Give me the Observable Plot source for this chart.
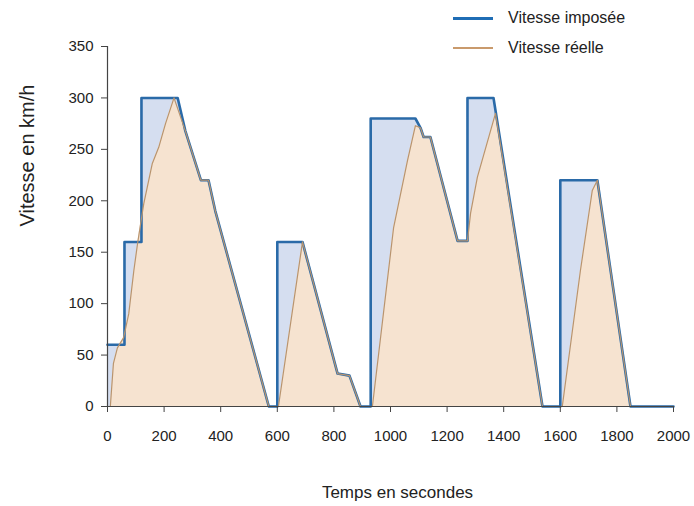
<!DOCTYPE html>
<html>
<head>
<meta charset="utf-8">
<script src="https://cdn.jsdelivr.net/npm/d3@7"></script>
<script src="https://cdn.jsdelivr.net/npm/@observablehq/plot@0.6"></script>
<style>
  body { margin: 0; background: #fff; }
  #wrap { position: relative; width: 694px; height: 506px; font-family: "Liberation Sans Narrow", "Arial Narrow", "Liberation Sans", Arial, sans-serif; }
  .leg { position: absolute; left: 453px; display: flex; align-items: center; font-size: 16px; color: #222; }
  .sw { width: 40px; margin-right: 15px; }
</style>
</head>
<body>
<div id="wrap">
  <div class="leg" style="top:9px"><div class="sw" style="height:3px;background:#1f6db5"></div>Vitesse imposée</div>
  <div class="leg" style="top:39px"><div class="sw" style="height:1.5px;background:#c99a6c"></div>Vitesse réelle</div>
</div>
<script>
const imposedT = [0,60,60,120,120,248,275,330,357,381,570,600,600,689,813,855,894,930,930,1088,1106,1117,1141,1237,1272,1272,1364,1537,1600,1600,1731,1848,2000];
const imposedV = [60,60,160,160,300,300,268,220,220,190,0,0,160,160,32,30,0,0,280,280,271,262,262,161,161,300,300,0,0,220,220,0,0];
const realT = [0,10,21,35,57,75,93,106,128,158,181,205,235,275,330,357,381,570,604,689,813,855,894,936,1011,1060,1088,1106,1117,1141,1237,1272,1283,1307,1371,1537,1607,1671,1713,1731,1848,2000];
const realV = [0,0,42,57,67,90,132,158,197,236,252,275,300,268,220,220,190,0,0,160,32,30,0,0,174,239,273,271,262,262,161,161,188,223,285,0,0,132,210,220,0,0];
const xTicks = [0,200,400,600,800,1000,1200,1400,1600,1800,2000];
const yTicks = [0,50,100,150,200,250,300,350];

const imposed = imposedT.map((t, i) => ({t, v: imposedV[i]}));
const real = realT.map((t, i) => ({t, v: realV[i]}));

const chart = Plot.plot({
  width: 694,
  height: 506,
  marginLeft: 107,
  marginRight: 21,
  marginTop: 46,
  marginBottom: 100,
  style: {fontFamily: "'Liberation Sans Narrow', 'Arial Narrow', 'Liberation Sans', Arial, sans-serif", color: "#222", background: "transparent"},
  x: {domain: [0, 2000]},
  y: {domain: [0, 350]},
  marks: [
    Plot.area(imposed, {x1: "t", y1: 0, y2: "v", fill: "#d5def0"}),
    Plot.area(real, {x1: "t", y1: 0, y2: "v", fill: "#f6e3d0"}),
    Plot.line(imposed, {x: "t", y: "v", stroke: "#2a6aa8", strokeWidth: 2.6}),
    Plot.line(real, {x: "t", y: "v", stroke: "#b8946f", strokeWidth: 1.2}),
    Plot.ruleX([0], {stroke: "#444", strokeWidth: 1.2}),
    Plot.ruleY([0], {stroke: "#444", strokeWidth: 1.2}),
    Plot.axisX({ticks: xTicks, tickSize: 6, tickPadding: 18, tickFormat: d => String(d), label: null, fontSize: 15, stroke: "#444"}),
    Plot.axisY({ticks: yTicks, tickSize: 6, tickPadding: 8, tickFormat: d => String(d), label: null, fontSize: 15, stroke: "#444"}),
    Plot.text(["Temps en secondes"], {frameAnchor: "bottom", dx: 7, dy: 91, fontSize: 17, fill: "#222"}),
    Plot.text(["Vitesse en km/h"], {frameAnchor: "left", rotate: -90, dx: -80, fontSize: 20, fill: "#222"})
  ]
});
document.getElementById("wrap").appendChild(chart);
</script>
</body>
</html>
